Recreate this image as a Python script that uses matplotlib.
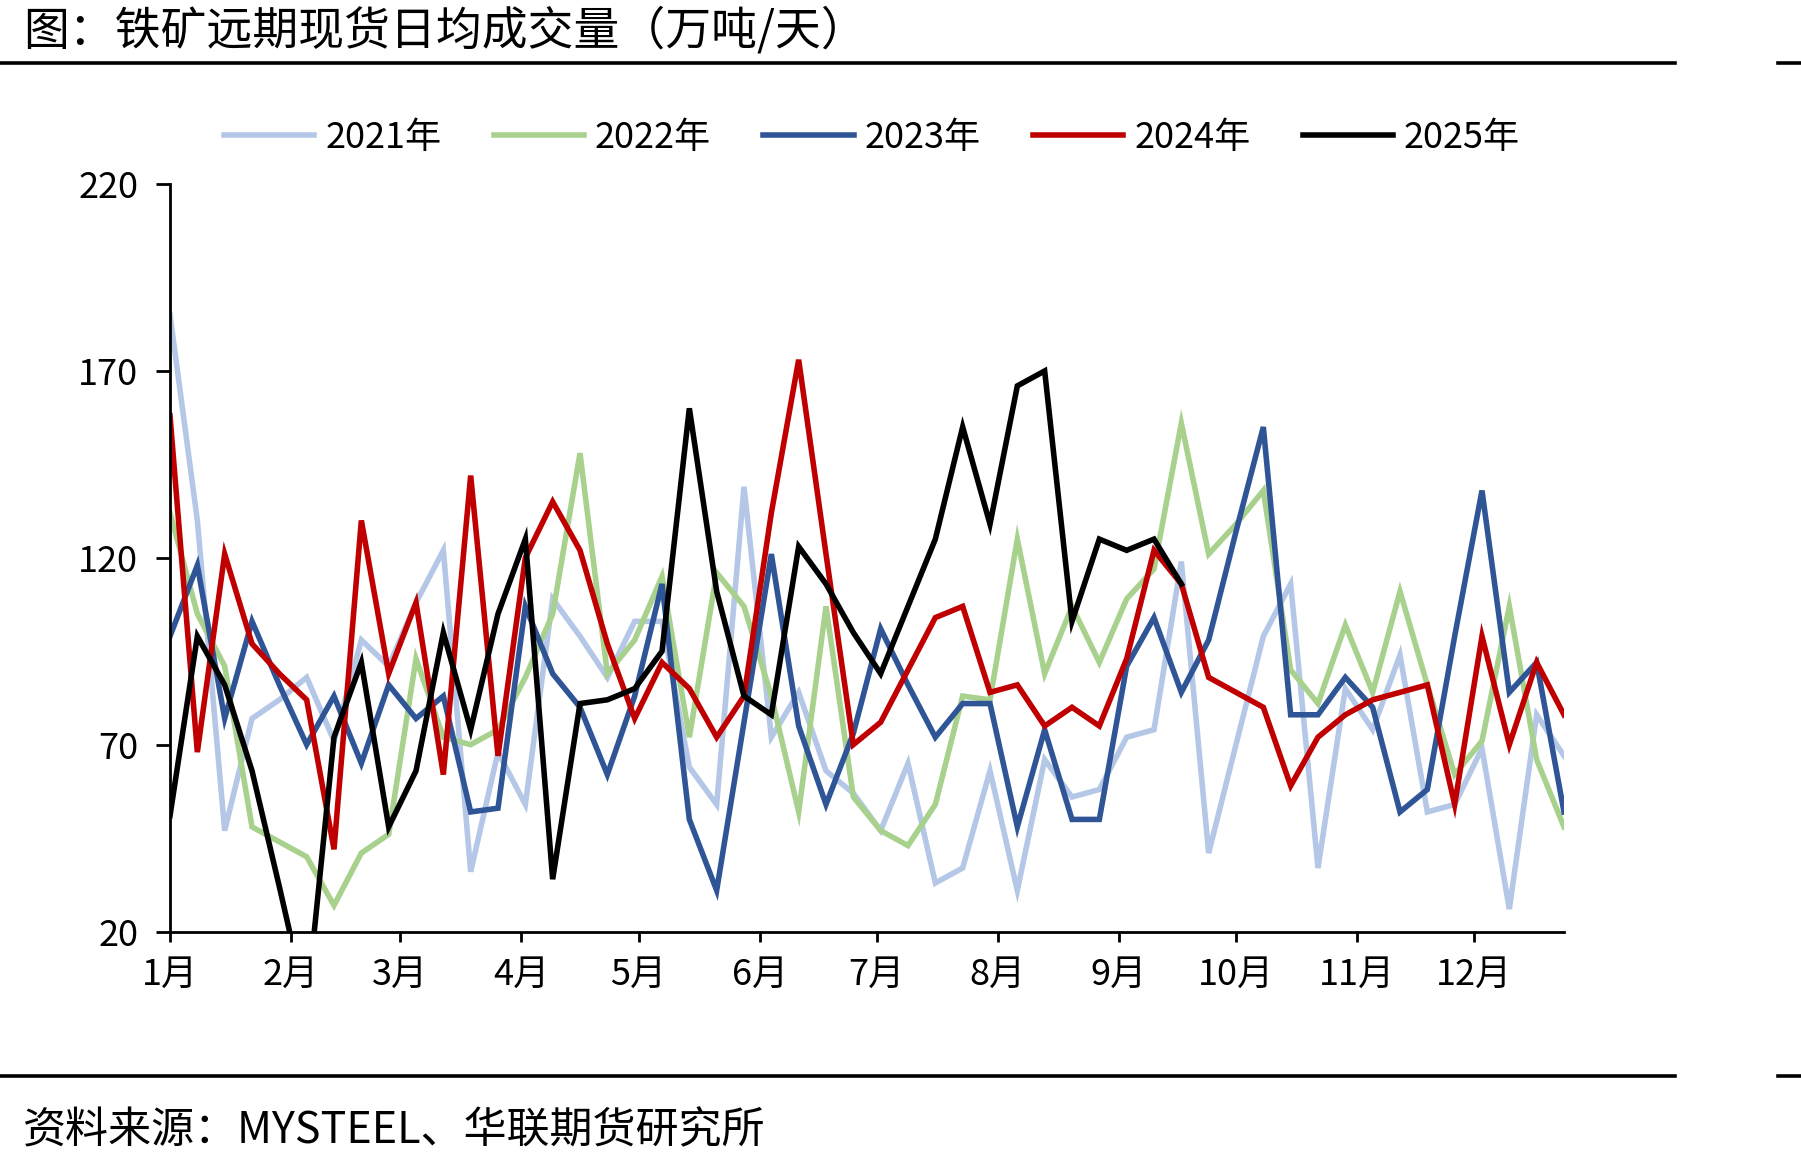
import numpy as np
import matplotlib
matplotlib.use("Agg")
import matplotlib.pyplot as plt
from matplotlib.lines import Line2D

plt.rcParams['font.family'] = ['Noto Sans CJK SC', 'DejaVu Sans']

# weekly values, week 0 = Jan 1
v2021 = [185, 130, 47, 77, 82, 88, 71, 98, 91, 108, 122, 36, 68, 54, 109, 99, 88, 103,
         103, 64, 54, 139, 72, 84, 63, 57, 47, 65, 33, 37, 63, 31, 66, 56, 58, 72, 74,
         119, 41, 70, 99, 113, 37, 85, 74, 94, 52, 54, 69, 26, 78, 67]
v2022 = [132, 105, 91, 48, 44, 40, 27, 41, 46, 93, 72, 70, 74, 88, 105, 148, 89, 98,
         115, 72, 116, 107, 83, 52, 107, 56, 47, 43, 54, 83, 82, 125, 89, 107, 92, 109,
         117, 156, 121, 129, 138, 90, 81, 102, 84, 111, 86, 62, 71, 107, 66, 48]
v2023 = [99, 118, 77, 103, 86, 70, 83, 65, 86, 77, 83, 52, 53, 107, 89, 80, 62, 83,
         113, 50, 31, 76, 121, 75, 54, 73, 101, 86, 72, 81, 81, 48, 74, 50, 50, 91, 104,
         84, 98, 127, 155, 78, 78, 88, 80, 52, 58, 99, 138, 84, 92, 52]
v2024 = [158, 68, 121, 97, 89, 82, 42, 130, 89, 108, 62, 142, 67, 120, 135, 122, 97, 77,
         92, 85, 72, 83, 132, 173, 121, 70, 76, 90, 104, 107, 84, 86, 75, 80, 75, 93,
         122, 113, 88, 84, 80, 59, 72, 78, 82, 84, 86, 54, 99, 70, 92, 78]
v2025 = [51, 99, 86, 63, 32, 0, 72, 92, 48, 63, 100, 74, 105, 125, 34, 81, 82, 85, 95,
         160, 111, 83, 78, 123, 113, 100, 89, 107, 125, 155, 129, 166, 170, 103, 125,
         122, 125, 113]

years = ['2021年', '2022年', '2023年', '2024年', '2025年']
colors = ['#B4C7E7', '#A9D18E', '#2F5597', '#C00000', '#000000']
series = [v2021, v2022, v2023, v2024, v2025]

month_labels = ['1月', '2月', '3月', '4月', '5月', '6月', '7月', '8月', '9月', '10月', '11月', '12月']
month_days = [0, 31, 59, 90, 120, 151, 181, 212, 243, 273, 304, 334]

fig = plt.figure(figsize=(18.01, 11.65), dpi=100)
ax = fig.add_axes([0.0944, 0.2004, 0.7740, 0.6416])

for name, col, vals in zip(years, colors, series):
    days = np.arange(len(vals)) * 7
    ax.plot(days, vals, color=col, lw=4.0, label=name, solid_joinstyle='miter')

ax.set_xlim(0, 357)
ax.set_ylim(20, 220)
ax.set_yticks([20, 70, 120, 170, 220])
ax.set_xticks(month_days)
ax.set_xticklabels(month_labels)
for s in ['top', 'right']:
    ax.spines[s].set_visible(False)
for s in ['left', 'bottom']:
    ax.spines[s].set_linewidth(2)
ax.tick_params(axis='y', length=10, width=2, labelsize=26, pad=13)
ax.tick_params(axis='x', length=7, width=2, labelsize=26, pad=11)

fig.legend(loc='center', bbox_to_anchor=(872 / 1801, 1 - 138 / 1165), ncol=5,
           frameon=False, fontsize=26, handlelength=2.5, handletextpad=0.3,
           columnspacing=1.45)

fig.text(23 / 1801, 1 - 31 / 1165, '图：铁矿远期现货日均成交量（万吨/天）',
         fontsize=33, ha='left', va='center')
fig.text(23 / 1801, 1 - 1131 / 1165, '资料来源：MYSTEEL、华联期货研究所',
         fontsize=31, ha='left', va='center')

for yy in [1 - 63 / 1165, 1 - 1076 / 1165]:
    fig.add_artist(Line2D([0, 1675 / 1801], [yy, yy], color='black', lw=2.6,
                          transform=fig.transFigure))
    fig.add_artist(Line2D([1778 / 1801, 1], [yy, yy], color='black', lw=2.6,
                          transform=fig.transFigure))

fig.savefig('out.png', dpi=100)
